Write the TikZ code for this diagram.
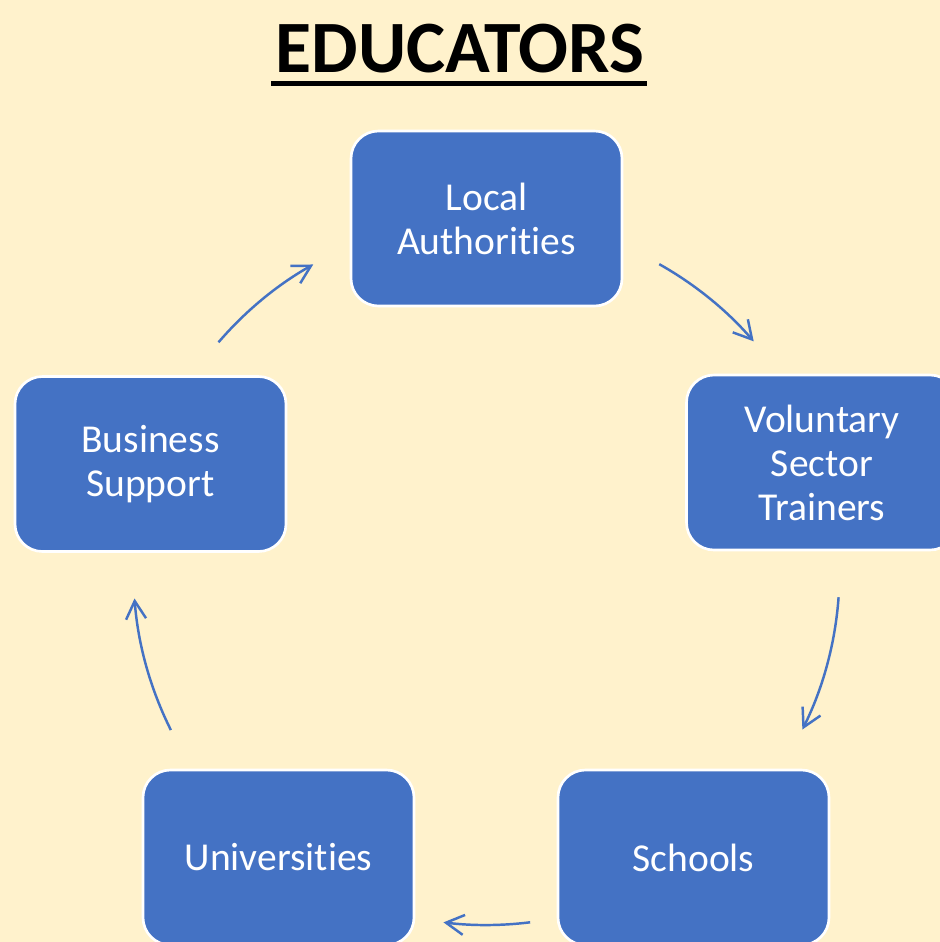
\documentclass[tikz,border=0pt]{standalone}
\usepackage{fontspec}
\setmainfont{Carlito}[Ligatures=NoCommon]
\usepackage{tikz}
\usetikzlibrary{arrows.meta}

\definecolor{cream}{HTML}{FFF2CC}
\definecolor{boxblue}{HTML}{4472C4}

\begin{document}
\begin{tikzpicture}[
  box/.style={draw=white, line width=1.5pt, fill=boxblue,
       rounded corners=0.55cm, minimum width=5.42cm, minimum height=3.5cm,
       text=white, align=center, font=\fontsize{22.5}{25}\selectfont},
  cyc/.style={color=boxblue, line width=1.4pt,
       -{Straight Barb[length=0.36cm,width=0.4cm]}}
]
\fill[cream] (0,0) rectangle (18.8,-18.84);
\useasboundingbox (0,0) rectangle (18.8,-18.84);

\node[anchor=base, inner sep=0pt,
      font=\fontsize{42}{50}\selectfont\bfseries] (title) at (9.2,-1.44) {EDUCATORS};
\draw[line width=2.3pt] ([xshift=-0.08cm,yshift=-0.23cm]title.base west)
  -- ([xshift=0.05cm,yshift=-0.23cm]title.base east);

\node[box] (local) at (9.73,-4.37) {Local\\Authorities};
\node[box] (vol) at (16.44,-9.25) {Voluntary\\Sector\\Trainers};
\node[box] (school) at (13.87,-17.15) {Schools};
\node[box] (uni) at (5.57,-17.15) {Universities};
\node[box] (bus) at (3.01,-9.28) {Business\\Support};

\coordinate (hub) at (9.73,-11.44);
\coordinate (a1) at ([shift={(60.7:7.06)}]hub);
\coordinate (a2) at ([shift={(-4.1:7.06)}]hub);
\coordinate (a3) at ([shift={(-82.9:7.06)}]hub);
\coordinate (a4) at ([shift={(206.6:7.06)}]hub);
\coordinate (a5) at ([shift={(139.4:7.06)}]hub);

\draw[cyc] (a1) arc[start angle=60.7, end angle=40.8, radius=7.06];
\draw[cyc] (a2) arc[start angle=-4.1, end angle=-26.5, radius=7.06];
\draw[cyc] (a3) arc[start angle=-82.9, end angle=-97.0, radius=7.06];
\draw[cyc] (a4) arc[start angle=206.6, end angle=184.3, radius=7.06];
\draw[cyc] (a5) arc[start angle=139.4, end angle=119.4, radius=7.06];
\end{tikzpicture}
\end{document}
